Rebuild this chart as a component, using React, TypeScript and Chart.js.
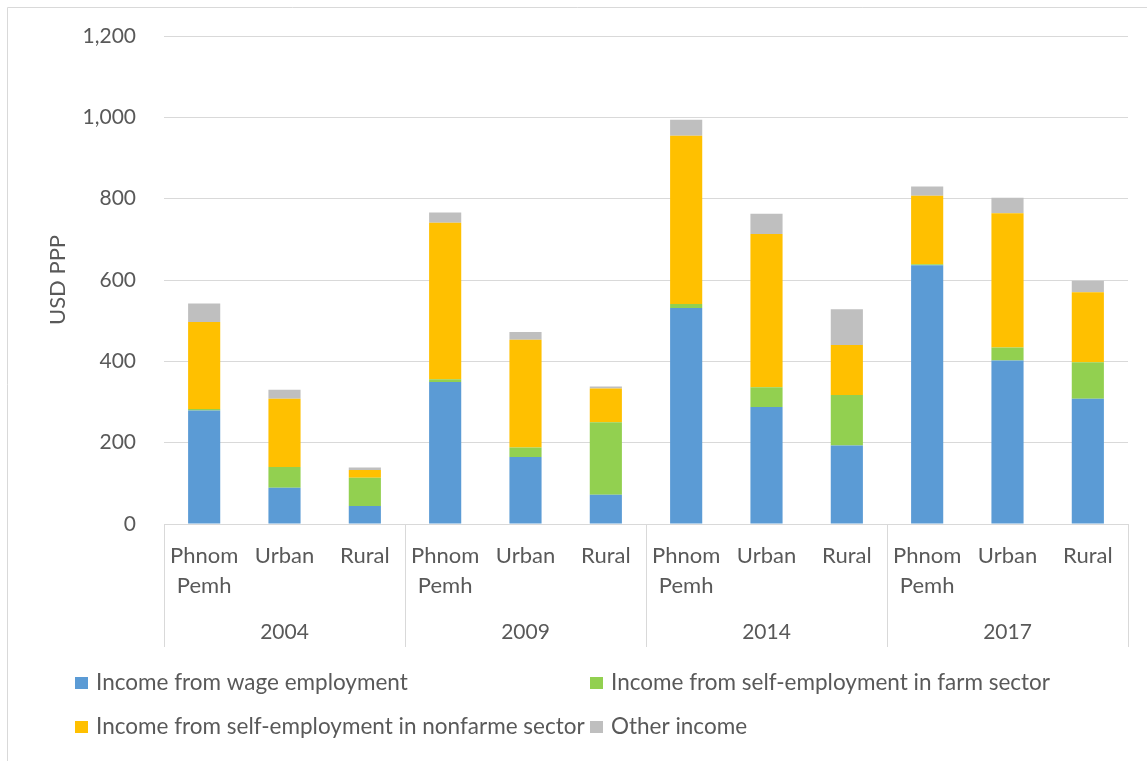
import React, { useEffect, useRef } from 'react';
import { Chart, registerables } from 'chart.js';

Chart.register(...registerables);

const years = ['2004', '2009', '2014', '2017'];
const regions: (string | string[])[] = [['Phnom', 'Pemh'], 'Urban', 'Rural'];

const wageIncome = [279, 89, 44, 349, 165, 72, 531, 288, 193, 636, 402, 308];
const farmIncome = [4, 51, 70, 7, 23, 178, 10, 48, 124, 3, 32, 90];
const nonfarmIncome = [214, 168, 19, 385, 265, 83, 414, 377, 123, 168, 330, 172];
const otherIncome = [45, 22, 6, 25, 19, 5, 39, 50, 88, 23, 38, 28];

const seriesNames = [
  'Income from wage employment',
  'Income from self-employment in farm sector',
  'Income from self-employment in nonfarme sector',
  'Other income',
];
const seriesColors = ['#5B9BD5', '#92D050', '#FFC000', '#BFBFBF'];

const yMin = 0;
const yMax = 1200;
const yStep = 200;

const FONT = 'Lato';
const TEXT = '#595959';
const LINE = '#D9D9D9';

const decorPlugin = {
  id: 'decor',
  afterDraw(chart: any) {
    const { ctx, chartArea, scales } = chart;
    const xs = scales.x;
    const n = regions.length;
    ctx.save();
    // outer frame (left/top visible)
    ctx.strokeStyle = LINE;
    ctx.lineWidth = 1;
    ctx.beginPath();
    ctx.moveTo(7.5, chart.height);
    ctx.lineTo(7.5, 7.5);
    ctx.lineTo(chart.width, 7.5);
    ctx.stroke();

    // group separators
    const sepBottom = 647;
    for (let g = 0; g <= years.length; g++) {
      let px: number;
      if (g === 0) px = chartArea.left;
      else if (g === years.length) px = chartArea.right;
      else px = (xs.getPixelForValue(g * n - 1) + xs.getPixelForValue(g * n)) / 2;
      px = Math.round(px) + 0.5;
      ctx.beginPath();
      ctx.moveTo(px, chartArea.bottom);
      ctx.lineTo(px, sepBottom);
      ctx.stroke();
    }

    // year labels
    ctx.font = `21px ${FONT}`;
    ctx.fillStyle = TEXT;
    ctx.textAlign = 'center';
    ctx.textBaseline = 'middle';
    years.forEach((yr, g) => {
      const c = (xs.getPixelForValue(g * n) + xs.getPixelForValue(g * n + n - 1)) / 2;
      ctx.fillText(yr, c, 632);
    });

    // legend (2 columns grid)
    const colMarkX = [75, 590];
    const colTextX = [96, 611];
    const rowY = [683, 727];
    ctx.font = `22.5px ${FONT}`;
    ctx.textAlign = 'left';
    chart.data.datasets.forEach((ds: any, i: number) => {
      const col = i % 2;
      const row = Math.floor(i / 2);
      ctx.fillStyle = ds.backgroundColor;
      ctx.fillRect(colMarkX[col], rowY[row] - 6, 13, 12);
      ctx.fillStyle = TEXT;
      ctx.fillText(ds.label, colTextX[col], rowY[row]);
    });
    ctx.restore();
  },
};

export default function App() {
  const ref = useRef<HTMLCanvasElement>(null);
  useEffect(() => {
    document.body.style.margin = '0';
    const labels: (string | string[])[] = [];
    years.forEach(() => regions.forEach((r) => labels.push(r)));
    const seriesData = [wageIncome, farmIncome, nonfarmIncome, otherIncome];
    const chart = new Chart(ref.current as HTMLCanvasElement, {
      type: 'bar',
      data: {
        labels,
        datasets: seriesData.map((d, i) => ({
          label: seriesNames[i],
          data: d,
          backgroundColor: seriesColors[i],
          borderWidth: 0,
          barPercentage: 0.4,
          categoryPercentage: 1,
        })),
      },
      plugins: [decorPlugin],
      options: {
        responsive: false,
        animation: false,
        layout: { padding: { left: 0, top: 36, right: 19, bottom: 0 } },
        plugins: {
          legend: { display: false },
          tooltip: { enabled: false },
        },
        scales: {
          x: {
            stacked: true,
            grid: { display: false, drawTicks: false },
            border: { display: true, color: LINE, width: 1 },
            ticks: {
              color: TEXT,
              font: { family: FONT, size: 22, lineHeight: 1.36 },
              padding: 17,
              maxRotation: 0,
              autoSkip: false,
            },
            afterFit(scale: any) {
              scale.height = 761 - 524;
            },
          },
          y: {
            stacked: true,
            min: yMin,
            max: yMax,
            ticks: {
              stepSize: yStep,
              color: TEXT,
              font: { family: FONT, size: 21 },
              padding: 28,
              callback: (v: any) => Number(v).toLocaleString('en-US'),
            },
            grid: { color: LINE, drawTicks: false, lineWidth: 1 },
            border: { display: false },
            title: {
              display: true,
              text: 'USD PPP',
              color: TEXT,
              font: { family: FONT, size: 22 },
              padding: { top: 45, bottom: 0 },
            },
            afterFit(scale: any) {
              scale.width = 164;
              scale.paddingTop = 12;
              scale.paddingBottom = 12;
            },
          },
        },
      },
    });
    return () => chart.destroy();
  }, []);
  return <canvas ref={ref} width={1147} height={761} style={{ display: 'block' }} />;
}
